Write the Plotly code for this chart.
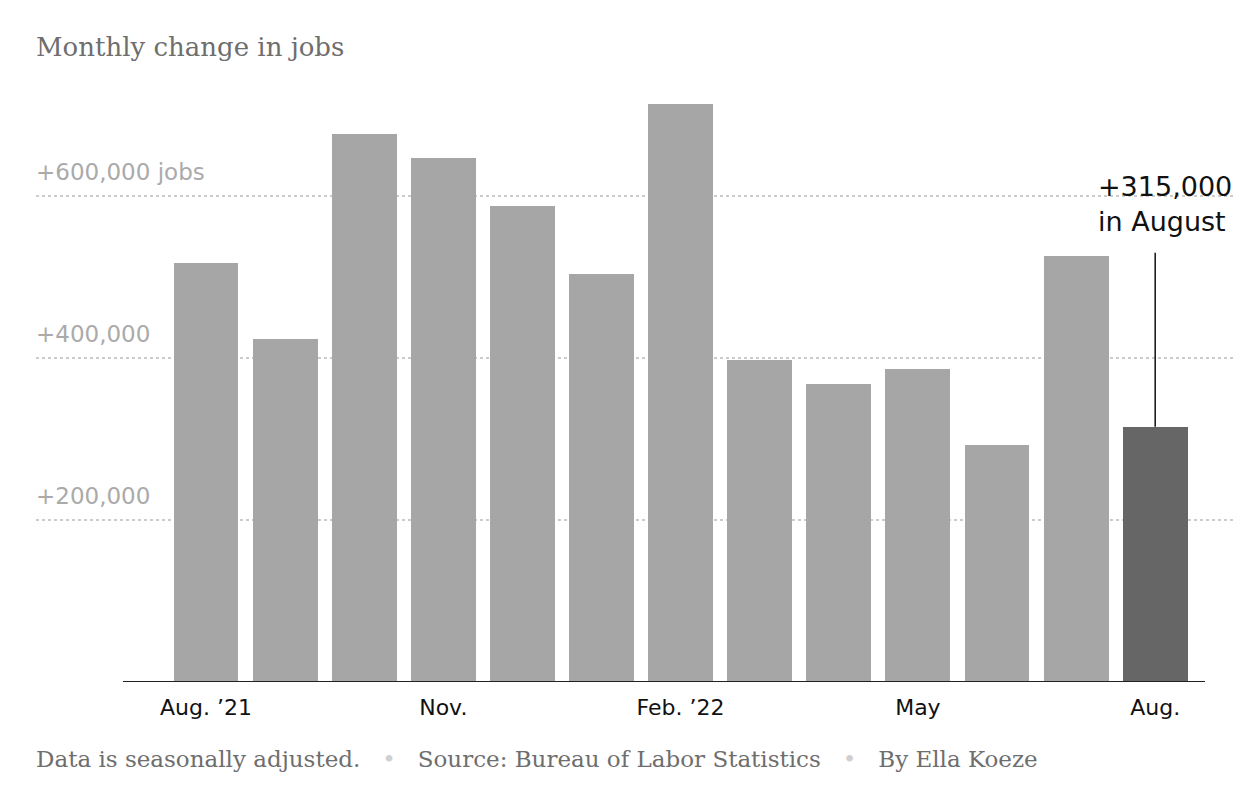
import plotly.graph_objects as go

months = ["Aug. ’21", "Sep.", "Oct.", "Nov.", "Dec.", "Jan. ’22", "Feb. ’22",
          "Mar.", "Apr.", "May", "Jun.", "Jul.", "Aug."]
jobs = [517000, 424000, 677000, 647000, 588000, 504000, 714000,
        398000, 368000, 386000, 293000, 526000, 315000]
tick_idx = [0, 3, 6, 9, 12]
tick_text = ["Aug. ’21", "Nov.", "Feb. ’22", "May", "Aug."]
grid_vals = [200000, 400000, 600000]
grid_text = ["+200,000", "+400,000", "+600,000 jobs"]

x = list(range(len(months)))
colors = ["#a6a6a6"] * (len(months) - 1) + ["#666666"]

SANS = "DejaVu Sans, Liberation Sans, sans-serif"
SERIF = "DejaVu Serif, Liberation Serif, serif"

fig = go.Figure()
fig.add_trace(go.Bar(x=x, y=jobs, width=0.82, marker=dict(color=colors, line=dict(width=0)),
                     hoverinfo="skip"))

fig.update_layout(
    width=1256, height=810,
    margin=dict(l=28, r=29, t=72, b=136),
    plot_bgcolor="white", paper_bgcolor="white",
    showlegend=False,
    bargap=0,
    xaxis=dict(range=[-2.149, 13.009], tickvals=tick_idx, ticktext=tick_text,
               showgrid=False, zeroline=False, showline=False, ticks="",
               ticklabelstandoff=10,
               tickfont=dict(family=SANS, size=22, color="#111")),
    yaxis=dict(range=[0, 743210], tickvals=grid_vals, showticklabels=False,
               showgrid=True, griddash="dot", gridcolor="#cccccc", gridwidth=2,
               zeroline=False, showline=False, ticks=""),
)

# baseline
fig.add_shape(type="line", xref="x", yref="y", x0=-1.05, x1=12.63, y0=0, y1=0,
              line=dict(color="#222", width=2))

# grid labels
for v, t in zip(grid_vals, grid_text):
    fig.add_annotation(xref="paper", yref="y", x=0, y=v, text=t, showarrow=False,
                       xanchor="left", yanchor="bottom", yshift=9, xshift=-2,
                       font=dict(family=SANS, size=23, color="#aaaaaa"))

# callout
last = len(jobs) - 1
fig.add_shape(type="line", xref="x", yref="y", x0=last, x1=last, y0=jobs[last], y1=530000,
              line=dict(color="#111", width=1.5))
fig.add_annotation(xref="x", yref="y", x=last, y=530000, xshift=-59, yshift=14,
                   text="+315,000<br>in August", showarrow=False, align="left",
                   xanchor="left", yanchor="bottom",
                   font=dict(family=SANS, size=27, color="#111"))

# title
fig.add_annotation(xref="paper", yref="paper", x=0, y=1, yshift=33, xshift=-2,
                   text="Monthly change in jobs",
                   showarrow=False, xanchor="left", yanchor="middle",
                   font=dict(family=SERIF, size=26, color="#6e6e6e"))

# footer
sp = "\u00a0" * 3
dot = "<span style='color:#d0d0d0'>•</span>"
footer = f"Data is seasonally adjusted.{sp}{dot}{sp}Source: Bureau of Labor Statistics{sp}{dot}{sp}By Ella Koeze"
fig.add_annotation(xref="paper", yref="paper", x=0, y=0, yshift=-77, xshift=-2, text=footer,
                   showarrow=False, xanchor="left", yanchor="middle",
                   font=dict(family=SERIF, size=23, color="#6e6e6e"))

fig.write_html("out.html")
